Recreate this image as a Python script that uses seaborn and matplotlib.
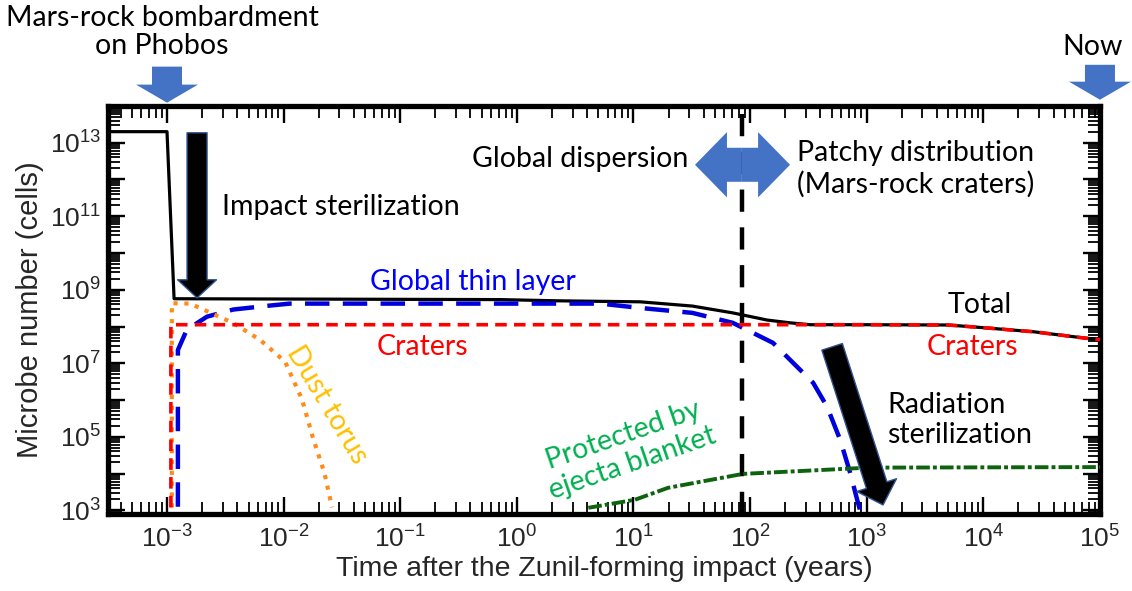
import numpy as np
import pandas as pd
import matplotlib
matplotlib.use("Agg")
import matplotlib.pyplot as plt
import seaborn as sns
from matplotlib.ticker import LogLocator, FuncFormatter, NullFormatter

# ---------------- data ----------------
total_t = [3.2e-4, 1.0e-3, 1.15e-3, 0.72, 2.3, 11.4, 32, 71, 140, 220, 327, 1e3, 5e3, 1e4, 2.7e4, 7.2e4, 1e5]
total_n = [2.0e13, 2.0e13, 5.7e8, 5.4e8, 5.0e8, 4.7e8, 3.6e8, 2.35e8, 1.5e8, 1.26e8, 1.12e8, 1.12e8, 1.1e8, 9.3e7, 7.2e7, 4.9e7, 4.4e7]

craters_t = [1.08e-3, 1.08e-3, 1e3, 5e3, 1e4, 2.7e4, 7.2e4, 1e5]
craters_n = [1.2e3, 1.12e8, 1.12e8, 1.1e8, 9.3e7, 7.2e7, 4.9e7, 4.4e7]

thin_t = [1.24e-3, 1.24e-3, 1.48e-3, 2.2e-3, 3.7e-3, 7.2e-3, 1.13e-2, 5.2, 11.4, 32, 71, 157, 269, 347, 457, 592, 721, 828, 877]
thin_n = [1.25e3, 2.3e7, 8.2e7, 1.85e8, 2.9e8, 3.65e8, 4.2e8, 4.2e8, 3.2e8, 2.35e8, 1.26e8, 3.6e7, 6.6e6, 2.95e6, 6.6e5, 8.3e4, 1.05e4, 1.94e3, 1.0e3]

dust_t = [1.1e-3, 1.1e-3, 1.58e-3, 3.7e-3, 6.3e-3, 1.03e-2, 1.44e-2, 1.78e-2, 2.24e-2, 2.6e-2]
dust_n = [1.2e3, 4.3e8, 4.2e8, 1.24e8, 4.3e7, 1.1e7, 1.03e6, 9.6e4, 1.03e4, 1.2e3]

blanket_t = [4.1, 10.3, 19.8, 41, 87, 1.05e3, 1e5]
blanket_n = [1.17e3, 1.94e3, 4.1e3, 6.3e3, 9.8e3, 1.45e4, 1.5e4]

boundary_t = 85          # global dispersion / patchy distribution boundary (years)
x_ticks_exp = list(range(-3, 6))
y_label_exp = [3, 5, 7, 9, 11, 13]

# ---------------- style ----------------
sns.set_theme(style="ticks")
plt.rcParams["font.family"] = ["Liberation Sans", "DejaVu Sans"]
plt.rcParams["mathtext.fontset"] = "custom"
plt.rcParams["mathtext.rm"] = "Liberation Sans"
plt.rcParams["mathtext.it"] = "Liberation Sans:italic"
plt.rcParams["mathtext.bf"] = "Liberation Sans:bold"
plt.rcParams["mathtext.default"] = "regular"
ANN = ["Lato", "DejaVu Sans"]
AFS = 20.5

fig = plt.figure(figsize=(11.32, 5.91), dpi=100)
ax = fig.add_axes([0.0954, 0.1303, 0.8763, 0.6904])
ax.set_xscale("log")
ax.set_yscale("log")
ax.set_xlim(10 ** -3.506, 1e5)
ax.set_ylim(10 ** 2.9, 10 ** 14.0)

def draw(t, n, **kw):
    df = pd.DataFrame({"t": t, "n": n})
    sns.lineplot(data=df, x="t", y="n", ax=ax, sort=False, estimator=None, **kw)

draw(total_t, total_n, color="black", lw=2.3, zorder=3)
draw(thin_t, thin_n, color="#0000DD", lw=3.2, linestyle=(0, (5.5, 3.0)), zorder=4)
draw(dust_t, dust_n, color="#FF8C1A", lw=3.0, linestyle=(0, (1.0, 1.6)), zorder=4)
draw(craters_t, craters_n, color="#FF0000", lw=2.6, linestyle=(0, (3.2, 2.0)), zorder=5)
draw(blanket_t, blanket_n, color="#0E640E", lw=2.8, linestyle=(0, (3.5, 0.8, 1.0, 0.8)), zorder=4)

ax.axvline(boundary_t, color="black", lw=3.2, linestyle=(0, (5, 3.5)), zorder=2)

# ---------------- axes cosmetics ----------------
for s in ax.spines.values():
    s.set_linewidth(3.8)
    s.set_color("black")
ax.xaxis.set_major_locator(LogLocator(base=10, numticks=30))
ax.xaxis.set_minor_locator(LogLocator(base=10, subs=np.arange(2, 10), numticks=30))
ax.yaxis.set_major_locator(LogLocator(base=10, numticks=30))
ax.yaxis.set_minor_locator(LogLocator(base=10, subs=np.arange(2, 10), numticks=30))

def fx(v, pos):
    e = int(round(np.log10(v)))
    return f"$10^{{{e}}}$" if e in x_ticks_exp else ""

def fy(v, pos):
    e = int(round(np.log10(v)))
    return f"$10^{{{e}}}$" if e in y_label_exp else ""

ax.xaxis.set_major_formatter(FuncFormatter(fx))
ax.yaxis.set_major_formatter(FuncFormatter(fy))
ax.xaxis.set_minor_formatter(NullFormatter())
ax.yaxis.set_minor_formatter(NullFormatter())
ax.tick_params(which="both", direction="in", top=True, right=True, color="black")
ax.tick_params(which="major", length=12, width=1.7, labelsize=19, pad=8)
ax.tick_params(which="minor", length=8.5, width=1.3)
ax.tick_params(axis="y", which="major", pad=5)

ax.set_xlabel("Time after the Zunil-forming impact (years)", fontsize=20.5, labelpad=3)
ax.set_ylabel("Microbe number (cells)", fontsize=21, labelpad=4)

# ---------------- annotations ----------------
def block_arrow(tail, tip, color, tw, hw, hl, ec="none", lw=0.0, z=6):
    ax.annotate("", xy=tip, xytext=tail, xycoords="data", textcoords="data",
                annotation_clip=False, zorder=z,
                arrowprops=dict(arrowstyle=f"simple,tail_width={tw},head_width={hw},head_length={hl}",
                                fc=color, ec=ec, lw=lw, shrinkA=0, shrinkB=0,
                                mutation_scale=10))

BLUE = "#4472C4"
# top arrows (outside the axes)
block_arrow((1e-3, 10 ** 15.07), (1e-3, 10 ** 14.09), BLUE, 2.16, 4.46, 1.3)
block_arrow((1e5, 10 ** 15.12), (1e5, 10 ** 14.17), BLUE, 2.16, 4.46, 1.3)
# impact sterilization arrow
block_arrow((1.81e-3, 10 ** 13.27), (1.81e-3, 10 ** 8.78), "black", 1.44, 2.8, 1.3, ec="#2F528F", lw=1.0)
# radiation sterilization arrow
block_arrow((505, 2.8e7), (1.38e3, 1.4e3), "black", 1.55, 3.0, 1.5, ec="#2F528F", lw=1.0)
# double arrow
block_arrow((boundary_t, 10 ** 12.40), (33.7, 10 ** 12.40), BLUE, 2.45, 4.7, 2.3, z=7)
block_arrow((boundary_t, 10 ** 12.40), (220, 10 ** 12.40), BLUE, 2.45, 4.7, 2.3, z=7)

def txt(x, y, s, color="black", ha="center", va="center", rot=0, ls=1.25):
    ax.text(x, y, s, color=color, ha=ha, va=va, rotation=rot, rotation_mode="anchor",
            fontsize=AFS, family=ANN, linespacing=ls, zorder=8, clip_on=False,
            multialignment="center" if ha == "center" else "left")

txt(9.06e-4, 1.05e16, "Mars-rock bombardment\non Phobos", ls=1.1)
txt(8.7e4, 4.1e15, "Now")
txt(2.96e-3, 1.8e11, "Impact sterilization", ha="left")
txt(0.42, 1.66e9, "Global thin layer", color="#0000FF")
txt(0.154, 2.8e7, "Craters", color="#FF0000")
txt(8.0e3, 2.8e7, "Craters", color="#FF0000")
txt(9.4e3, 3.9e8, "Total")
txt(0.0236, 7.4e5, "Dust torus", color="#FFC000", rot=-59)
txt(3.5, 3.5e12, "Global dispersion")
txt(253, 1.95e12, "Patchy distribution\n(Mars-rock craters)", ha="left", ls=1.2)
txt(1.5e3, 2.8e5, "Radiation\nsterilization", ha="left", ls=1.2)
txt(9.0, 4.5e4, "Protected by\nejecta blanket", color="#00B050", rot=19, ls=1.15)

fig.savefig("out.png", dpi=100)
